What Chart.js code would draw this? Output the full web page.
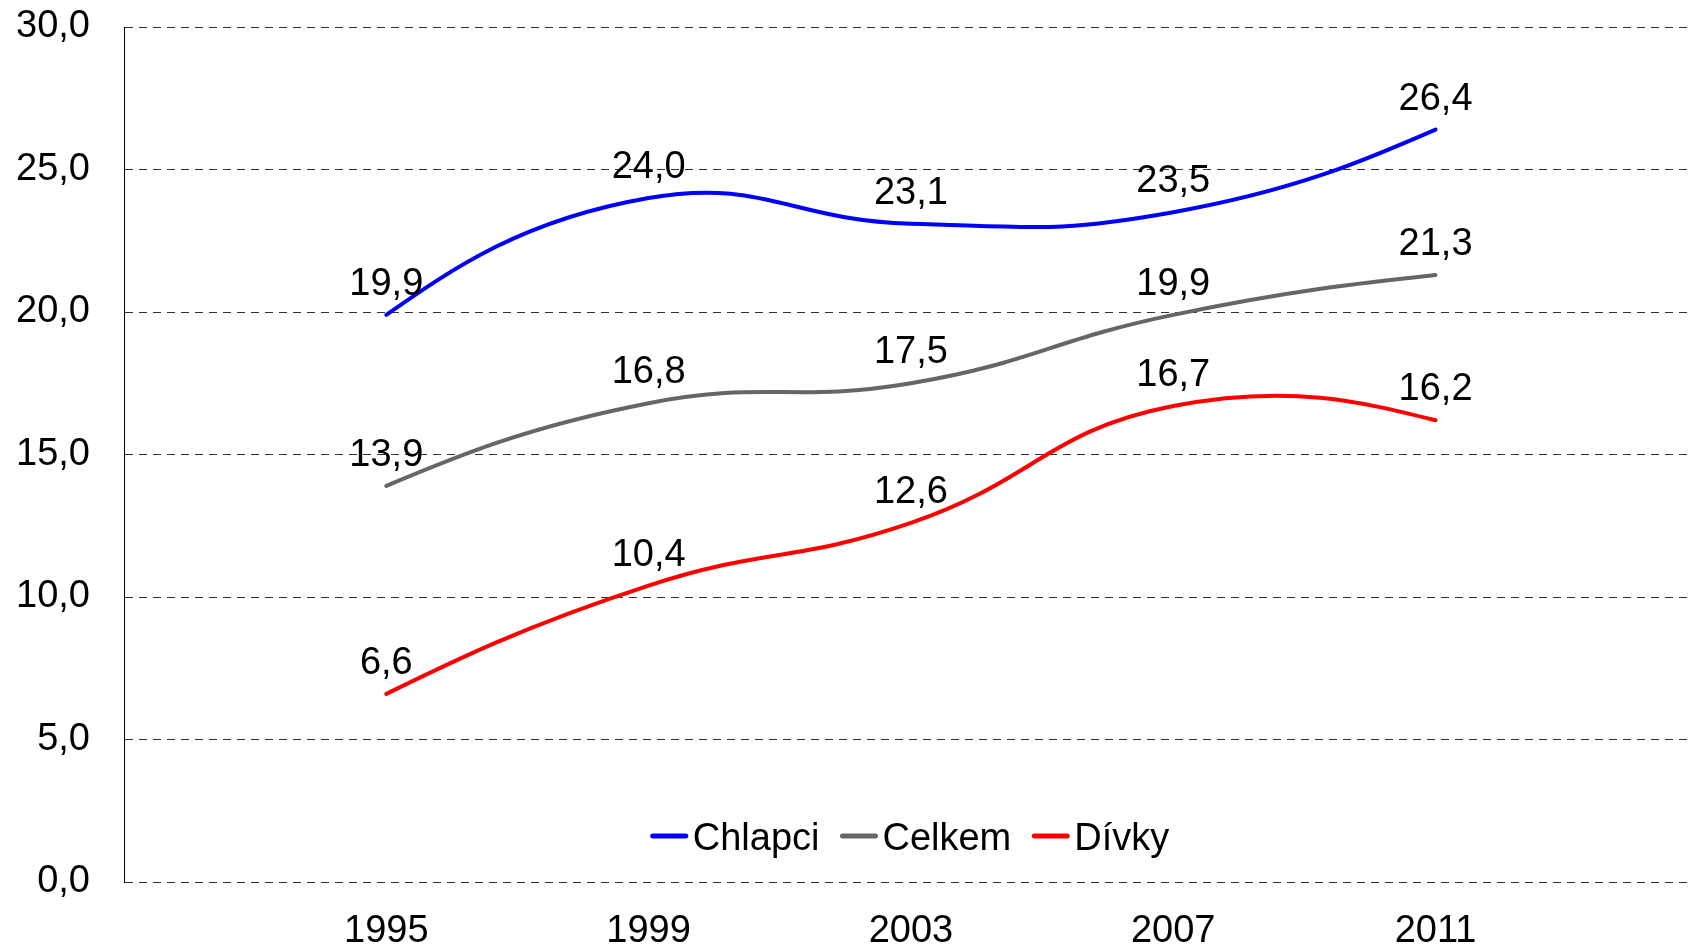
<!DOCTYPE html>
<html>
<head>
<meta charset="utf-8">
<script src="https://cdn.jsdelivr.net/npm/chart.js@4"></script>
<style>
  html, body { margin:0; padding:0; background:#fff; }
  #wrap { width:1688px; height:946px; position:relative; }
</style>
</head>
<body>
<div id="wrap"><canvas id="chart"></canvas></div>
<script>
// Data
const years = [1995, 1999, 2003, 2007, 2011];
const chlapci = [19.9, 24.0, 23.1, 23.5, 26.4];
const celkem = [13.9, 16.8, 17.5, 19.9, 21.3];
const divky = [6.6, 10.4, 12.6, 16.7, 16.2];
const seriesNames = ['Chlapci', 'Celkem', 'Dívky'];
const seriesColors = ['#0000ff', '#666666', '#ff0000'];

const fmt = v => v.toFixed(1).replace('.', ',');
const FONT = "'Liberation Sans', Arial, sans-serif";

const toPoints = vals => vals.map((v,i)=>({x: years[i], y: v}));

// Excel-like smoothing at the ends: pull the end control point halfway
// towards the neighbour's control point (natural end condition)
const smoothEnds = {
  id: 'smoothEnds',
  beforeDatasetsDraw(chart){
    chart.data.datasets.forEach((ds, i)=>{
      const meta = chart.getDatasetMeta(i);
      const pts = meta.data;
      if (pts.length < 3) return;
      meta.dataset.updateControlPoints(chart.chartArea, 'x');
      const a = pts[0], b = pts[1];
      a.cp2x = (a.x + b.cp1x)/2; a.cp2y = (a.y + b.cp1y)/2;
      const z = pts[pts.length-1], y = pts[pts.length-2];
      z.cp1x = (z.x + y.cp2x)/2; z.cp1y = (z.y + y.cp2y)/2;
    });
  }
};

// value labels above each point
const valueLabels = {
  id: 'valueLabels',
  afterDatasetsDraw(chart){
    const ctx = chart.ctx;
    ctx.save();
    ctx.font = '38px ' + FONT;
    ctx.fillStyle = '#000';
    ctx.textAlign = 'center';
    ctx.textBaseline = 'alphabetic';
    chart.data.datasets.forEach((ds, i)=>{
      chart.getDatasetMeta(i).data.forEach((pt, j)=>{
        ctx.fillText(fmt(ds.data[j].y), pt.x, pt.y - 20);
      });
    });
    ctx.restore();
  }
};

// legend drawn inside the plot area, bottom centre
const innerLegend = {
  id: 'innerLegend',
  afterDraw(chart){
    const ctx = chart.ctx;
    const area = chart.chartArea;
    ctx.save();
    ctx.font = '38px ' + FONT;
    const lineW = 37, gapTxt = 5, gapItem = 21;
    const items = chart.data.datasets.map(ds => ({label: ds.label, color: ds.borderColor, w: ctx.measureText(ds.label).width}));
    const total = items.reduce((s,it)=>s + lineW + gapTxt + it.w, 0) + gapItem*(items.length-1);
    let x = (area.left + area.right)/2 + 4 - total/2;
    const yLine = area.bottom - 46, yText = area.bottom - 32;
    items.forEach(it=>{
      ctx.strokeStyle = it.color;
      ctx.lineWidth = 5;
      ctx.lineCap = 'round';
      ctx.beginPath(); ctx.moveTo(x+2, yLine); ctx.lineTo(x+lineW-2, yLine); ctx.stroke();
      x += lineW + gapTxt;
      ctx.fillStyle = '#000';
      ctx.textBaseline = 'alphabetic';
      ctx.textAlign = 'left';
      ctx.fillText(it.label, x, yText);
      x += it.w + gapItem;
    });
    ctx.restore();
  }
};

Chart.defaults.font.family = FONT;
Chart.defaults.color = '#000';

new Chart(document.getElementById('chart').getContext('2d'), {
  type: 'line',
  data: {
    datasets: [chlapci, celkem, divky].map((vals, i)=>({
      label: seriesNames[i],
      data: toPoints(vals),
      borderColor: seriesColors[i],
      backgroundColor: seriesColors[i],
      borderWidth: 4,
      borderCapStyle: 'round',
      tension: 0.46,
      pointRadius: 0,
      fill: false
    }))
  },
  options: {
    responsive: true,
    maintainAspectRatio: false,
    animation: false,
    layout: { padding: { top: 27, right: 0, left: 0, bottom: 0 } },
    plugins: { legend: { display: false }, tooltip: { enabled: false } },
    scales: {
      x: {
        type: 'linear',
        min: 1991, max: 2014.85,
        afterBuildTicks: s => { s.ticks = years.map(v => ({value: v})); },
        afterFit: s => { s.height = 64; s.paddingLeft = 0; s.paddingRight = 0; },
        ticks: { font: { size: 38 }, padding: 27, callback: v => String(v), maxRotation: 0 },
        grid: { display: false, drawTicks: false },
        border: { display: false }
      },
      y: {
        min: 0, max: 30,
        afterFit: s => { s.width = 124; s.paddingTop = 0; s.paddingBottom = 0; },
        ticks: { stepSize: 5, font: { size: 38 }, padding: 34, callback: v => fmt(v) },
        grid: { color: '#333', lineWidth: 1, drawTicks: false },
        border: { display: true, color: '#000', width: 1, dash: [8, 6] }
      }
    }
  },
  plugins: [smoothEnds, valueLabels, innerLegend]
});
</script>
</body>
</html>
